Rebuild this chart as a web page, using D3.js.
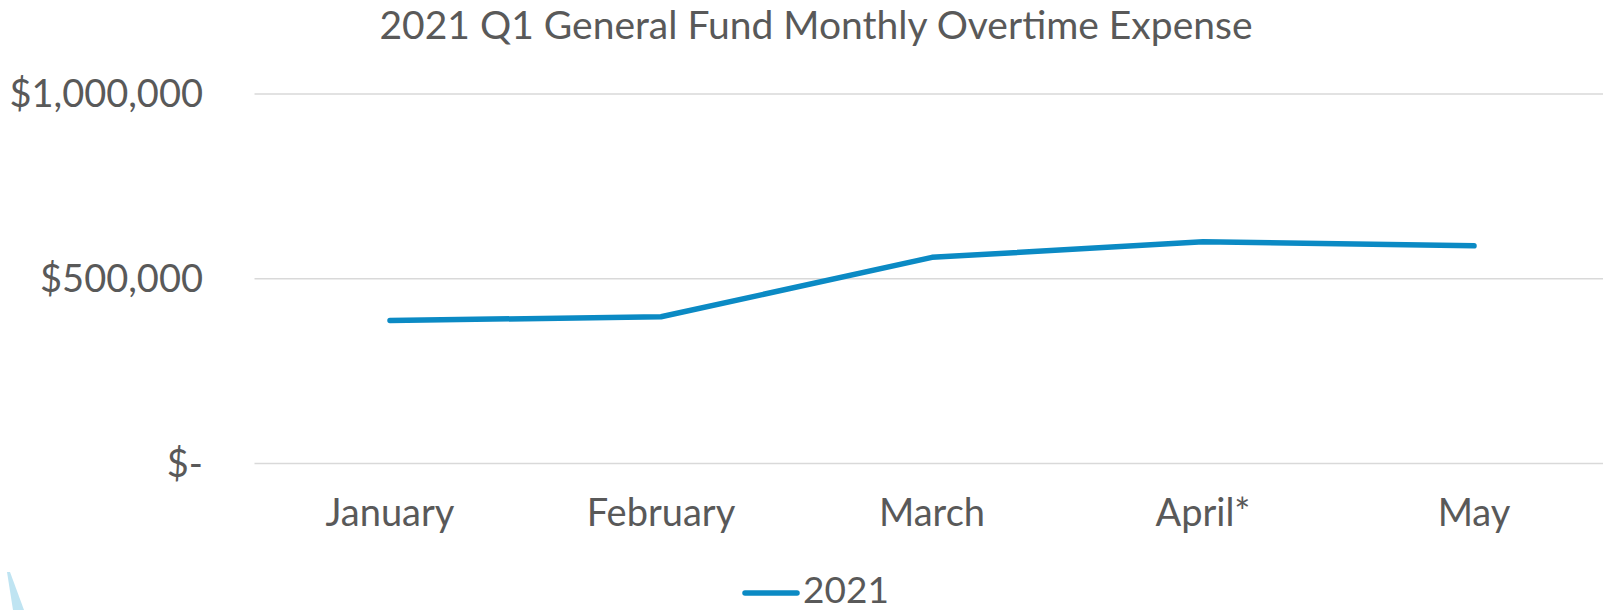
<!DOCTYPE html>
<html>
<head>
<meta charset="utf-8">
<script src="https://cdn.jsdelivr.net/npm/d3@7"></script>
<style>
  html, body { margin: 0; padding: 0; background: #fff; }
  svg { display: block; }
  text { font-family: Lato, "Open Sans", sans-serif; fill: #595959; }
</style>
</head>
<body>
<svg id="chart" width="1603" height="610"></svg>
<script>
// ---- data ----
const title = "2021 Q1 General Fund Monthly Overtime Expense";
const months = ["January", "February", "March", "April*", "May"];
const seriesName = "2021";
const values2021 = [387000, 397000, 558000, 600000, 589000];
const yTicks = [0, 500000, 1000000];
const yTickLabels = ["$-", "$500,000", "$1,000,000"];

// ---- layout ----
const W = 1603, H = 610;
const plot = { left: 254.5, right: 1609.5, top: 94, bottom: 463.5 };
const lineColor = "#0b8ac4";
const gridColor = "#d9d9d9";

const svg = d3.select("#chart");

const x = d3.scaleBand().domain(months).range([plot.left, plot.right]).padding(0);
const y = d3.scaleLinear().domain([0, 1000000]).range([plot.bottom, plot.top]);
const cx = d => x(d) + x.bandwidth() / 2;

// decorative wedge at bottom-left (background artifact)
svg.append("path")
  .attr("d", "M7,572 L10,572 L24,610 L13,610 Z")
  .attr("fill", "#bfe4f2");

// gridlines
svg.append("g").selectAll("line").data(yTicks).join("line")
  .attr("x1", plot.left).attr("x2", W)
  .attr("y1", d => y(d)).attr("y2", d => y(d))
  .attr("stroke", gridColor).attr("stroke-width", 1.5);

// y labels
svg.append("g").selectAll("text").data(yTicks).join("text")
  .attr("x", 203)
  .attr("y", d => y(d) + 13)
  .attr("text-anchor", "end")
  .attr("font-size", 38)
  .text((d, i) => yTickLabels[i]);

// x labels
svg.append("g").selectAll("text").data(months).join("text")
  .attr("x", d => cx(d))
  .attr("y", 526)
  .attr("text-anchor", "middle")
  .attr("font-size", 38)
  .text(d => d);

// title
svg.append("text")
  .attr("x", 816).attr("y", 39)
  .attr("text-anchor", "middle")
  .attr("font-size", 39)
  .text(title);

// line
const line = d3.line()
  .x((d, i) => cx(months[i]))
  .y(d => y(d));

svg.append("path")
  .datum(values2021)
  .attr("d", line)
  .attr("fill", "none")
  .attr("stroke", lineColor)
  .attr("stroke-width", 5.5)
  .attr("stroke-linecap", "round")
  .attr("stroke-linejoin", "round");

// legend
svg.append("line")
  .attr("x1", 745).attr("x2", 797)
  .attr("y1", 593).attr("y2", 593)
  .attr("stroke", lineColor).attr("stroke-width", 5.5)
  .attr("stroke-linecap", "round");
svg.append("text")
  .attr("x", 803).attr("y", 603)
  .attr("font-size", 37)
  .text(seriesName);
</script>
</body>
</html>
